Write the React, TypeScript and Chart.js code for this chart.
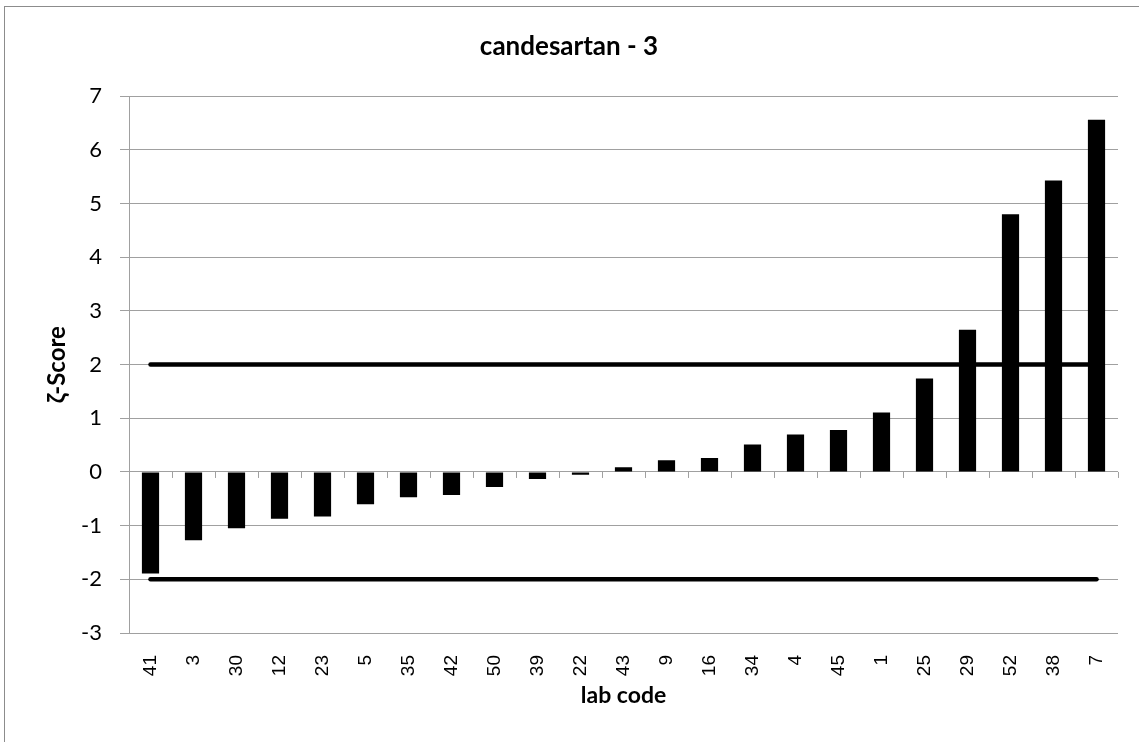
import React, { useEffect, useRef } from "react";
import { Chart, registerables } from "chart.js";

Chart.register(...registerables);

const labCodes = ["41", "3", "30", "12", "23", "5", "35", "42", "50", "39", "22", "43", "9", "16", "34", "4", "45", "1", "25", "29", "52", "38", "7"];
const zScores = [-1.89, -1.27, -1.05, -0.87, -0.83, -0.6, -0.47, -0.43, -0.28, -0.13, -0.05, 0.09, 0.22, 0.26, 0.51, 0.7, 0.78, 1.11, 1.74, 2.65, 4.8, 5.43, 6.56];
const upperLimit = 2;
const lowerLimit = -2;
const yMin = -3;
const yMax = 7;

const chartTitle = "candesartan - 3";
const xTitle = "lab code";
const yTitle = "ζ-Score";

const GRID = "#a0a0a0";

const zeroTicks = {
  id: "zeroTicks",
  afterDatasetsDraw(chart: any) {
    const xs = chart.scales.x;
    const ys = chart.scales.y;
    const y0 = ys.getPixelForValue(0);
    const step = xs.getPixelForValue(1) - xs.getPixelForValue(0);
    const ctx = chart.ctx;
    ctx.save();
    ctx.strokeStyle = GRID;
    ctx.lineWidth = 1;
    ctx.beginPath();
    for (let i = 0; i <= labCodes.length; i++) {
      const x = Math.round(xs.getPixelForValue(i) - step / 2) + 0.5;
      ctx.moveTo(x, y0);
      ctx.lineTo(x, y0 + 6);
    }
    ctx.stroke();
    ctx.restore();
  },
};

export default function App() {
  const ref = useRef<HTMLCanvasElement | null>(null);

  useEffect(() => {
    if (!ref.current) return;
    const chart = new Chart(ref.current, {
      type: "bar",
      data: {
        labels: labCodes,
        datasets: [
          {
            type: "line",
            data: [
              { x: labCodes[0], y: upperLimit },
              { x: labCodes[labCodes.length - 1], y: upperLimit },
            ],
            borderColor: "#000",
            borderWidth: 4.5,
            borderCapStyle: "round",
            pointRadius: 0,
            order: 2,
          } as any,
          {
            type: "line",
            data: [
              { x: labCodes[0], y: lowerLimit },
              { x: labCodes[labCodes.length - 1], y: lowerLimit },
            ],
            borderColor: "#000",
            borderWidth: 4.5,
            borderCapStyle: "round",
            pointRadius: 0,
            order: 2,
          } as any,
          {
            type: "bar",
            data: zScores,
            backgroundColor: "#000",
            borderWidth: 0,
            categoryPercentage: 1,
            barPercentage: 0.4,
            order: 1,
          } as any,
        ],
      },
      options: {
        responsive: false,
        animation: false,
        layout: { padding: { left: 20, right: 21, top: 0, bottom: 33 } },
        plugins: {
          legend: { display: false },
          tooltip: { enabled: false },
          title: {
            display: true,
            text: chartTitle,
            color: "#000",
            font: { family: "Lato", size: 26, weight: "bold" },
            padding: { top: 31, bottom: 34 },
          },
        },
        scales: {
          x: {
            offset: true,
            grid: { display: false },
            border: { display: false },
            ticks: {
              color: "#000",
              font: { family: "Liberation Sans", size: 19 },
              minRotation: 90,
              maxRotation: 90,
              padding: 14,
              autoSkip: false,
            },
            title: {
              display: true,
              text: xTitle,
              color: "#000",
              font: { family: "Lato", size: 23, weight: "bold" },
              padding: { top: 0, bottom: 0 },
            },
            afterFit(scale: any) {
              scale.height = 742 - 633 - 33;
            },
          } as any,
          y: {
            min: yMin,
            max: yMax,
            grid: { color: GRID, tickColor: GRID, tickLength: 9, lineWidth: 1 },
            border: { display: true, color: GRID },
            ticks: {
              stepSize: 1,
              color: "#000",
              font: { family: "Lato", size: 22 },
              padding: 18,
            },
            title: {
              display: true,
              text: yTitle,
              color: "#000",
              font: { family: "Lato", size: 24, weight: "bold" },
              padding: { top: 23, bottom: 0 },
            },
            afterFit(scale: any) {
              scale.width = 129 - 20;
            },
          } as any,
        },
      },
      plugins: [zeroTicks],
    });
    return () => chart.destroy();
  }, []);

  return (
    <div style={{ position: "absolute", left: 0, top: 0, width: 1139, height: 742, overflow: "hidden", background: "#fff" }}>
      <div
        style={{
          position: "absolute",
          left: 4,
          top: 6,
          width: 1200,
          height: 800,
          border: "1px solid #8c8c8c",
          boxSizing: "border-box",
        }}
      />
      <canvas ref={ref} width={1139} height={742} style={{ position: "absolute", left: 0, top: 0, width: 1139, height: 742 }} />
    </div>
  );
}
